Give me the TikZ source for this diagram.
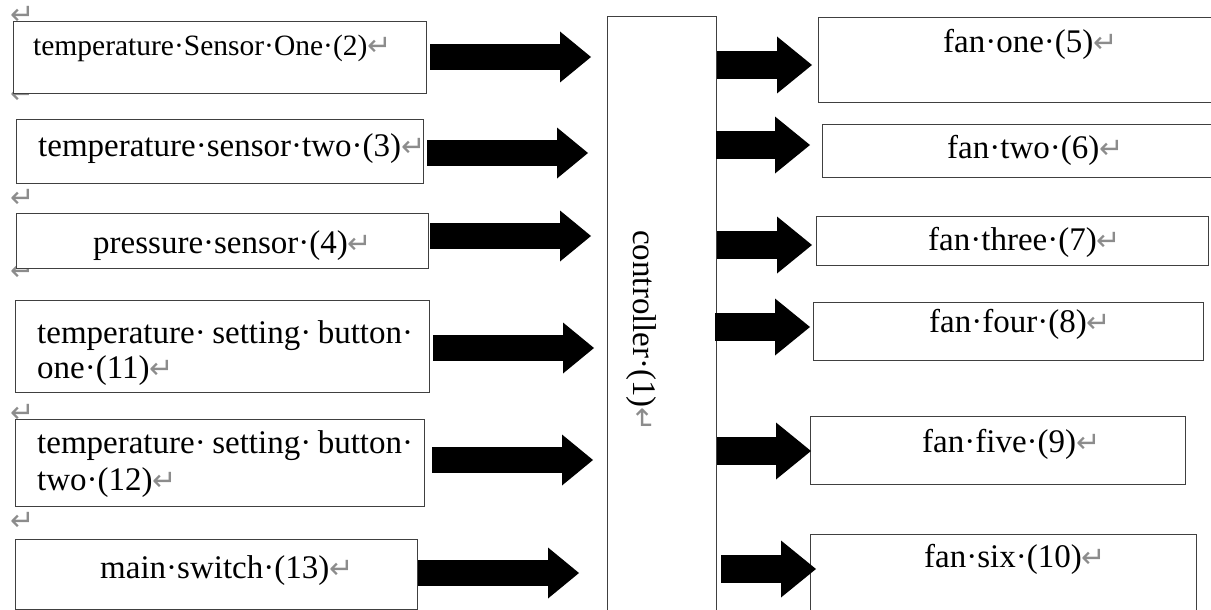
\documentclass[tikz,border=0pt]{standalone}
\usepackage{fontspec}
\setmainfont{Liberation Serif}
\newfontfamily\dvfont{DejaVu Sans}
\usetikzlibrary{arrows.meta}
\definecolor{markgray}{HTML}{8C8C8C}
\definecolor{boxline}{HTML}{404040}
\newcommand{\retmark}{{\dvfont\fontsize{29}{29}\selectfont\textcolor{markgray}{↵}}}
\newcommand{\bigtext}{\fontsize{33}{38}\selectfont}
\newcommand{\smalltext}{\fontsize{29.5}{34}\selectfont}
\tikzset{
  box/.style={draw=boxline, line width=1.2pt, fill=white, inner sep=0pt, anchor=north west},
  lbl/.style={inner sep=0pt, anchor=base west, font=\bigtext},
  marginmark/.style={inner sep=0pt, anchor=base west},
  inarrow/.style={line width=25.5pt, -{Triangle[length=31pt,width=51pt,line width=0pt]}},
  outarrow/.style={line width=28pt, -{Triangle[length=35pt,width=57pt,line width=0pt]}},
}
\begin{document}
\begin{tikzpicture}[x=1pt,y=-1pt]
\useasboundingbox (0,0) rectangle (1211,610);
\clip (0,0) rectangle (1211,610);
\fill[white] (0,0) rectangle (1211,610);

% stray paragraph marks in the left margin (partly behind the boxes)
\node[marginmark] (m1) at (10,25) {\retmark};
\node[marginmark] (m2) at (10,103) {\retmark};
\node[marginmark] (m3) at (10,207) {\retmark};
\node[marginmark] (m4) at (10,280) {\retmark};
\node[marginmark] (m5) at (10,422) {\retmark};
\node[marginmark] (m6) at (10,530) {\retmark};

% input boxes
\node[box, minimum width=413, minimum height=72] (s1) at (13,21) {};
\node[box, minimum width=407, minimum height=64] (s2) at (16,119) {};
\node[box, minimum width=412, minimum height=55] (s3) at (16,213) {};
\node[box, minimum width=414, minimum height=92] (s4) at (15,300) {};
\node[box, minimum width=409, minimum height=87] (s5) at (15,419) {};
\node[box, minimum width=402, minimum height=70] (s6) at (15,539) {};

\node[lbl, font=\smalltext] (t1) at (33,56) {temperature·Sensor·One·(2)\retmark};
\node[lbl] (t2) at (38,157) {temperature·sensor·two·(3)\retmark};
\node[lbl] (t3) at (93,253) {pressure·sensor·(4)\retmark};
\node[lbl] (t4a) at (37,343) {temperature·\hspace{6.5pt}setting·\hspace{6.5pt}button·};
\node[lbl] (t4b) at (37,378) {one·(11)\retmark};
\node[lbl] (t5a) at (37,453) {temperature·\hspace{6.5pt}setting·\hspace{6.5pt}button·};
\node[lbl] (t5b) at (37,490) {two·(12)\retmark};
\node[lbl] (t6) at (100,578) {main·switch·(13)\retmark};

% controller
\node[box, minimum width=109, minimum height=640] (ctl) at (607,16) {};
\node[lbl, rotate=-90] (ctlt) at (633,230) {controller·(1)\retmark};

% fan boxes
\node[box, minimum width=420, minimum height=85] (f1) at (818,17) {};
\node[box, minimum width=420, minimum height=53] (f2) at (822,124) {};
\node[box, minimum width=392, minimum height=49] (f3) at (816,216) {};
\node[box, minimum width=390, minimum height=58] (f4) at (813,302) {};
\node[box, minimum width=375, minimum height=68] (f5) at (810,416) {};
\node[box, minimum width=386, minimum height=90] (f6) at (810,534) {};

\node[lbl] (f1t) at (943,53) {fan·one·(5)\retmark};
\node[lbl] (f2t) at (947,158) {fan·two·(6)\retmark};
\node[lbl] (f3t) at (928,250) {fan·three·(7)\retmark};
\node[lbl] (f4t) at (929,332) {fan·four·(8)\retmark};
\node[lbl] (f5t) at (922,452) {fan·five·(9)\retmark};
\node[lbl] (f6t) at (924,567) {fan·six·(10)\retmark};

% arrow end points
\coordinate (a1s) at (430,57);  \coordinate (a1e) at (591,57);
\coordinate (a2s) at (427,153); \coordinate (a2e) at (588,153);
\coordinate (a3s) at (430,236); \coordinate (a3e) at (591,236);
\coordinate (a4s) at (433,348); \coordinate (a4e) at (594,348);
\coordinate (a5s) at (432,460); \coordinate (a5e) at (593,460);
\coordinate (a6s) at (418,573); \coordinate (a6e) at (579,573);

\coordinate (b1s) at (717,65);  \coordinate (b1e) at (812,65);
\coordinate (b2s) at (716,145); \coordinate (b2e) at (810,145);
\coordinate (b3s) at (717,245); \coordinate (b3e) at (812,245);
\coordinate (b4s) at (715,327); \coordinate (b4e) at (810,327);
\coordinate (b5s) at (717,451); \coordinate (b5e) at (811,451);
\coordinate (b6s) at (721,569); \coordinate (b6e) at (816,569);

\draw[inarrow] (a1s) -- (a1e);
\draw[inarrow] (a2s) -- (a2e);
\draw[inarrow] (a3s) -- (a3e);
\draw[inarrow] (a4s) -- (a4e);
\draw[inarrow] (a5s) -- (a5e);
\draw[inarrow] (a6s) -- (a6e);

\draw[outarrow] (b1s) -- (b1e);
\draw[outarrow] (b2s) -- (b2e);
\draw[outarrow] (b3s) -- (b3e);
\draw[outarrow] (b4s) -- (b4e);
\draw[outarrow] (b5s) -- (b5e);
\draw[outarrow] (b6s) -- (b6e);
\end{tikzpicture}
\end{document}
